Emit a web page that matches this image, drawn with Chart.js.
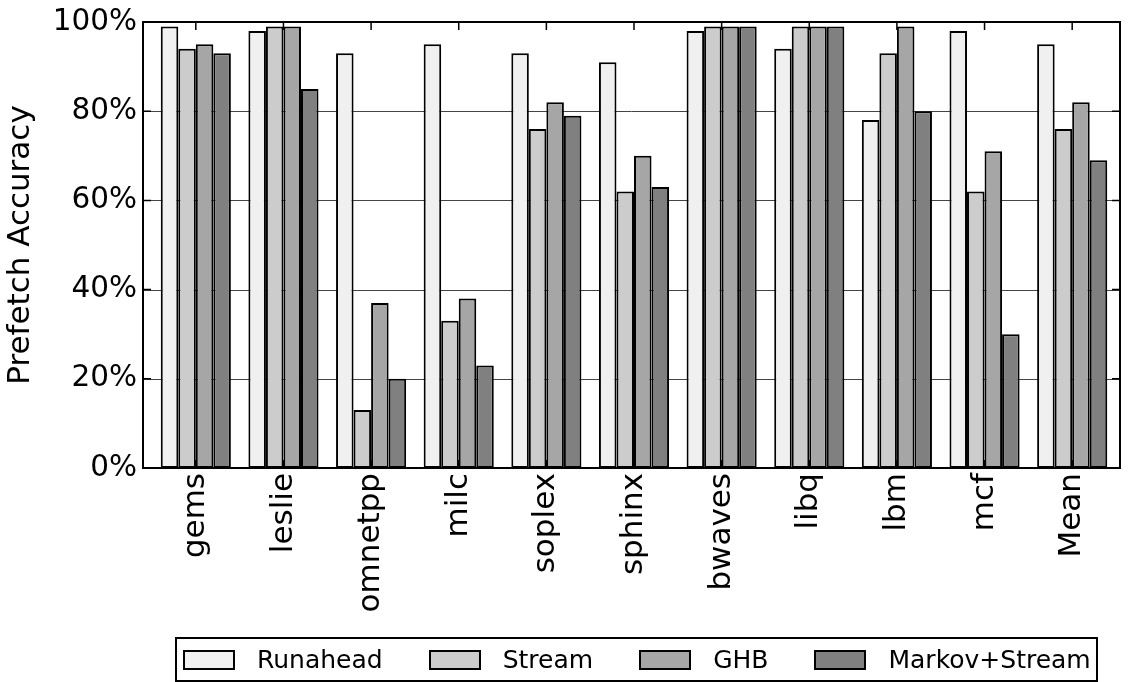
<!DOCTYPE html>
<html>
<head>
<meta charset="utf-8">
<script src="https://cdn.jsdelivr.net/npm/chart.js@4.4.1/dist/chart.umd.min.js"></script>
<style>
  html, body { margin: 0; padding: 0; background: #fff; }
  #wrap { position: relative; width: 1128px; height: 682px; }
  #legend {
    position: absolute; left: 175px; top: 637px; width: 919px; height: 41px;
    border: 2px solid #000; box-sizing: content-box;
    display: flex; align-items: center; padding-left: 0;
    font-family: "DejaVu Sans", sans-serif; font-size: 25px; color: #000;
  }
  .item { display: flex; align-items: center; margin-right: 46px; }
  .item:first-child { margin-left: 6px; }
  .item:last-child { margin-right: 0; }
  .swatch { width: 48px; height: 16px; border: 2px solid #000; margin-right: 22px; }
</style>
</head>
<body>
<div id="wrap">
  <canvas id="chart" width="1128" height="682"></canvas>
  <div id="legend"></div>
</div>
<script>
// benchmarks on the x axis
var benchmarks = ['gems', 'leslie', 'omnetpp', 'milc', 'soplex', 'sphinx', 'bwaves', 'libq', 'lbm', 'mcf', 'Mean'];

// prefetch accuracy (%) per prefetcher
var runahead     = [99, 98, 93, 95, 93, 91, 98, 94, 78, 98, 95];
var stream       = [94, 99, 13, 33, 76, 62, 99, 99, 93, 62, 76];
var ghb          = [95, 99, 37, 38, 82, 70, 99, 99, 99, 71, 82];
var markovStream = [93, 85, 20, 23, 79, 63, 99, 99, 80, 30, 69];

var yTicks = [0, 20, 40, 60, 80, 100];

var seriesNames  = ['Runahead', 'Stream', 'GHB', 'Markov+Stream'];
var seriesValues = [runahead, stream, ghb, markovStream];
var seriesColors = ['#f0f0f0', '#cccccc', '#a6a6a6', '#808080'];

var font = "'DejaVu Sans', sans-serif";

// gridlines, frame and inward tick marks like the original plot
var framePlugin = {
    id: 'frame',
    beforeDatasetsDraw: function(chart) {
        var ctx = chart.ctx, a = chart.chartArea, y = chart.scales.y;
        var left = a.left - 9, right = a.right + 4;
        ctx.save();
        ctx.strokeStyle = '#444';
        ctx.lineWidth = 1;
        yTicks.forEach(function(v) {
            if (v === 0 || v === 100) return;
            var py = Math.round(y.getPixelForValue(v)) + 0.5;
            ctx.beginPath();
            ctx.moveTo(left, py);
            ctx.lineTo(right, py);
            ctx.stroke();
        });
        ctx.restore();
    },
    afterDatasetsDraw: function(chart) {
        var ctx = chart.ctx, a = chart.chartArea, x = chart.scales.x, y = chart.scales.y;
        var left = a.left - 9, right = a.right + 4, top = a.top, bottom = a.bottom;
        ctx.save();
        ctx.strokeStyle = '#000';
        ctx.lineWidth = 2;
        ctx.strokeRect(left, top, right - left, bottom - top);
        ctx.lineWidth = 1.5;
        yTicks.forEach(function(v) {
            var py = y.getPixelForValue(v);
            ctx.beginPath();
            ctx.moveTo(left, py); ctx.lineTo(left + 8, py);
            ctx.moveTo(right, py); ctx.lineTo(right - 8, py);
            ctx.stroke();
        });
        benchmarks.forEach(function(b, i) {
            var px = x.getPixelForValue(i);
            ctx.beginPath();
            ctx.moveTo(px, top); ctx.lineTo(px, top + 8);
            ctx.moveTo(px, bottom); ctx.lineTo(px, bottom - 8);
            ctx.stroke();
        });
        ctx.restore();
    }
};

var datasets = seriesNames.map(function(name, i) {
    return {
        label: name,
        data: seriesValues[i],
        backgroundColor: seriesColors[i],
        borderColor: '#000',
        borderWidth: 2,
        borderSkipped: false
    };
});

var ctx = document.getElementById('chart').getContext('2d');
var chart = new Chart(ctx, {
    type: 'bar',
    data: { labels: benchmarks, datasets: datasets },
    plugins: [framePlugin],
    options: {
        responsive: false,
        animation: false,
        layout: { padding: { top: 22, right: 12, bottom: 0, left: 0 } },
        datasets: { bar: { barPercentage: 1.0, categoryPercentage: 0.8 } },
        plugins: {
            legend: { display: false },
            tooltip: { enabled: false }
        },
        scales: {
            x: {
                grid: { display: false, drawTicks: false },
                border: { display: false },
                ticks: {
                    autoSkip: false,
                    minRotation: 90,
                    maxRotation: 90,
                    padding: 5,
                    color: '#000',
                    font: { family: font, size: 31 }
                },
                afterFit: function(scale) {
                    scale.height = 214;
                    scale.paddingLeft = 0;
                    scale.paddingRight = 0;
                }
            },
            y: {
                min: 0,
                max: 100,
                grid: { display: false, drawTicks: false },
                border: { display: false },
                afterBuildTicks: function(scale) {
                    scale.ticks = yTicks.map(function(v) { return { value: v }; });
                },
                ticks: {
                    padding: 15,
                    color: '#000',
                    font: { family: font, size: 29.5 },
                    callback: function(v) { return v + '%'; }
                },
                title: {
                    display: true,
                    text: 'Prefetch Accuracy',
                    color: '#000',
                    padding: { top: 2, bottom: 0 },
                    font: { family: font, size: 31 }
                },
                afterFit: function(scale) {
                    scale.width = 152;
                    scale.paddingTop = 0;
                    scale.paddingBottom = 0;
                }
            }
        }
    }
});

// legend built from the chart's datasets
var legend = document.getElementById('legend');
chart.data.datasets.forEach(function(ds) {
    var item = document.createElement('div');
    item.className = 'item';
    var sw = document.createElement('div');
    sw.className = 'swatch';
    sw.style.background = ds.backgroundColor;
    var label = document.createElement('span');
    label.textContent = ds.label;
    item.appendChild(sw);
    item.appendChild(label);
    legend.appendChild(item);
});
</script>
</body>
</html>
